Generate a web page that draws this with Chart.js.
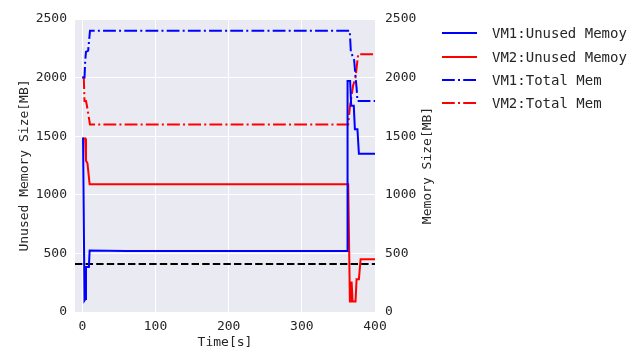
<!DOCTYPE html>
<html>
<head>
<meta charset="utf-8">
<script src="https://cdn.jsdelivr.net/npm/chart.js@4.4.1/dist/chart.umd.min.js"></script>
<style>
    body { margin: 0; background: #fff; }
    #wrap { position: relative; width: 630px; height: 350px; }
    #legend {
        position: absolute; left: 442px; top: 21.7px;
        font-family: "DejaVu Sans Mono", monospace; font-size: 14px; color: #262626;
    }
    .item { display: flex; align-items: center; height: 23.3px; white-space: nowrap; }
    .item svg { margin-right: 15px; }
</style>
</head>
<body>
<div id="wrap">
    <canvas id="memChart"></canvas>
    <div id="legend"></div>
</div>
<script>
// time [s] and memory [MB]
const vm1UnusedT  = [0, 1, 3, 4, 5, 9, 10, 60, 362, 362.5, 366, 367.5, 371, 372.5, 376, 378, 400];
const vm1UnusedMB = [1480, 1480, 100, 110, 385, 385, 525, 520, 520, 1970, 1970, 1760, 1760, 1560, 1560, 1350, 1350];

const vm2UnusedT  = [0, 4, 5, 7, 10, 363.4, 365.7, 367, 368, 369.4, 373.4, 374.8, 378, 380.3, 400];
const vm2UnusedMB = [1480, 1480, 1290, 1270, 1090, 1090, 90, 90, 260, 90, 90, 280, 280, 450, 450];

const vm1TotalT  = [0, 3, 4, 5, 8, 9, 10.5, 365.5, 367, 371.5, 373.5, 375, 376, 400];
const vm1TotalMB = [2000, 2000, 2150, 2220, 2230, 2300, 2400, 2400, 2220, 2150, 2000, 1900, 1800, 1800];

const vm2TotalT  = [0, 2, 3, 5, 6, 10.5, 363.4, 365.7, 370, 373.4, 377, 400];
const vm2TotalMB = [2000, 2000, 1800, 1800, 1770, 1600, 1600, 1750, 1930, 2000, 2200, 2200];

const thresholdT  = [-10, 400];
const thresholdMB = [410, 410];

const seriesLabels = ["VM1:Unused Memoy", "VM2:Unused Memoy", "VM1:Total Mem", "VM2:Total Mem"];
const xTicks = [0, 100, 200, 300, 400];
const yTicks = [0, 500, 1000, 1500, 2000, 2500];
const rightTitle = 'Memory Size[MB]';

const dashDot = [12.8, 3.2, 2, 3.2];

function pts(t, v) {
    return t.map((x, i) => ({ x: x, y: v[i] }));
}

Chart.defaults.font.family = '"DejaVu Sans Mono", monospace';
Chart.defaults.font.size = 13;
Chart.defaults.color = '#262626';

const datasets = [
    { label: seriesLabels[0], data: pts(vm1UnusedT, vm1UnusedMB), borderColor: '#0000ff', borderDash: [], yAxisID: 'y' },
    { label: seriesLabels[1], data: pts(vm2UnusedT, vm2UnusedMB), borderColor: '#ff0000', borderDash: [], yAxisID: 'y' },
    { label: seriesLabels[2], data: pts(vm1TotalT, vm1TotalMB), borderColor: '#0000ff', borderDash: dashDot, yAxisID: 'y2' },
    { label: seriesLabels[3], data: pts(vm2TotalT, vm2TotalMB), borderColor: '#ff0000', borderDash: dashDot, yAxisID: 'y2' },
    { label: 'threshold', data: pts(thresholdT, thresholdMB), borderColor: '#000000', borderDash: [7.4, 3.2], yAxisID: 'y' }
];
datasets.forEach(ds => {
    ds.borderWidth = 2;
    ds.pointRadius = 0;
    ds.tension = 0;
    ds.fill = false;
});

// plot background like seaborn darkgrid + right axis title reading upward
const plotBg = {
    id: 'plotBg',
    beforeDraw(chart) {
        const a = chart.chartArea;
        chart.ctx.save();
        chart.ctx.fillStyle = '#eaeaf2';
        chart.ctx.fillRect(a.left, a.top, a.right - a.left, a.bottom - a.top);
        chart.ctx.restore();
    },
    afterDraw(chart) {
        const s = chart.scales.y2;
        const ctx = chart.ctx;
        ctx.save();
        ctx.translate(s.right - 12.5, (chart.chartArea.top + chart.chartArea.bottom) / 2);
        ctx.rotate(-Math.PI / 2);
        ctx.font = '13px "DejaVu Sans Mono", monospace';
        ctx.fillStyle = '#262626';
        ctx.textAlign = 'center';
        ctx.textBaseline = 'middle';
        ctx.fillText(rightTitle, 0, 0);
        ctx.restore();
    }
};

const onlyTicks = list => scale => {
    scale.ticks = list.map(v => ({ value: v }));
};
const plain = v => String(v);

new Chart(document.getElementById('memChart'), {
    type: 'line',
    data: { datasets: datasets },
    options: {
        responsive: true,
        maintainAspectRatio: false,
        animation: false,
        layout: { padding: { top: 19, right: 190, left: 0, bottom: 0 } },
        plugins: { legend: { display: false }, tooltip: { enabled: false } },
        scales: {
            x: {
                type: 'linear', min: -10, max: 400,
                afterBuildTicks: onlyTicks(xTicks),
                afterFit: s => { s.height = 38; },
                grid: { color: '#ffffff', lineWidth: 1, drawTicks: false },
                border: { display: false },
                ticks: { padding: 7, callback: plain },
                title: { display: true, text: 'Time[s]', padding: { top: 0, bottom: 0 } }
            },
            y: {
                position: 'left', min: 0, max: 2500,
                afterBuildTicks: onlyTicks(yTicks),
                afterFit: s => { s.width = 75; },
                grid: { color: '#ffffff', lineWidth: 1, drawTicks: false },
                border: { display: false },
                ticks: { padding: 8, callback: plain },
                title: { display: true, text: 'Unused Memory Size[MB]', padding: { top: 17, bottom: 0 } }
            },
            y2: {
                position: 'right', min: 0, max: 2500,
                afterBuildTicks: onlyTicks(yTicks),
                afterFit: s => { s.width = 65; },
                grid: { drawOnChartArea: false, drawTicks: false },
                border: { display: false },
                ticks: { padding: 10, callback: plain }
            }
        }
    },
    plugins: [plotBg]
});

// legend drawn next to the chart
const legendEl = document.getElementById('legend');
datasets.slice(0, 4).forEach(ds => {
    const row = document.createElement('div');
    row.className = 'item';
    const dash = ds.borderDash.length ? ds.borderDash.join(' ') : 'none';
    row.innerHTML =
        `<svg width="35" height="6"><line x1="0" y1="3" x2="35" y2="3" stroke="${ds.borderColor}" stroke-width="2" stroke-dasharray="${dash}"/></svg>` +
        `<span>${ds.label}</span>`;
    legendEl.appendChild(row);
});
</script>
</body>
</html>
